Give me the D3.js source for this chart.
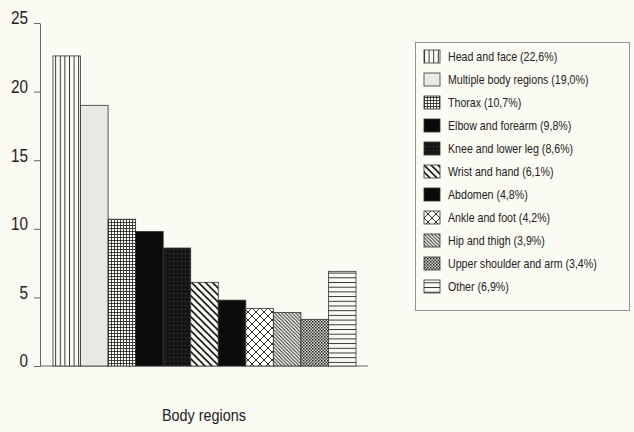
<!DOCTYPE html>
<html>
<head>
<meta charset="utf-8">
<script src="https://cdn.jsdelivr.net/npm/d3@7"></script>
<style>
  html, body { margin: 0; padding: 0; background: #fbfaf3; }
  svg { display: block; font-family: "Liberation Sans", Arial, sans-serif; }
</style>
</head>
<body>
<div id="chart"></div>
<script>
// Data
const regions = ['Head and face', 'Multiple body regions', 'Thorax', 'Elbow and forearm',
  'Knee and lower leg', 'Wrist and hand', 'Abdomen', 'Ankle and foot', 'Hip and thigh',
  'Upper shoulder and arm', 'Other'];
const shares = [22.6, 19.0, 10.7, 9.8, 8.6, 6.1, 4.8, 4.2, 3.9, 3.4, 6.9];
const legendLabels = ['Head and face (22,6%)', 'Multiple body regions (19,0%)', 'Thorax (10,7%)',
  'Elbow and forearm (9,8%)', 'Knee and lower leg (8,6%)', 'Wrist and hand (6,1%)',
  'Abdomen (4,8%)', 'Ankle and foot (4,2%)', 'Hip and thigh (3,9%)',
  'Upper shoulder and arm (3,4%)', 'Other (6,9%)'];
const yTicks = [0, 5, 10, 15, 20, 25];
const fills = ['url(#p-vert)', '#e9e9e3', 'url(#p-grid)', '#0b0b0b', 'url(#p-dark)',
  'url(#p-diag)', '#0b0b0b', 'url(#p-diamond)', 'url(#p-finediag)', 'url(#p-dots)', 'url(#p-horiz)'];

const width = 634, height = 432;
const squeeze = 0.85; // the print uses a condensed face

const svg = d3.select('#chart')
  .append('svg')
  .attr('width', width)
  .attr('height', height);

svg.append('rect').attr('width', width).attr('height', height).attr('fill', '#fbfaf3');

// Patterns
const defs = svg.append('defs');
const ink = '#1a1a1a';

function pattern(id, w, h, bg) {
  const p = defs.append('pattern')
    .attr('id', id)
    .attr('patternUnits', 'userSpaceOnUse')
    .attr('width', w)
    .attr('height', h);
  p.append('rect').attr('width', w).attr('height', h).attr('fill', bg || '#fbfaf3');
  return p;
}

pattern('p-vert', 4.6, 10).append('line')
  .attr('x1', 0.5).attr('x2', 0.5).attr('y1', 0).attr('y2', 10)
  .attr('stroke', ink).attr('stroke-width', 0.9);

const grid = pattern('p-grid', 3, 3);
grid.append('line').attr('x1', 0).attr('x2', 3).attr('y1', 0.5).attr('y2', 0.5)
  .attr('stroke', ink).attr('stroke-width', 0.8);
grid.append('line').attr('x1', 0.5).attr('x2', 0.5).attr('y1', 0).attr('y2', 3)
  .attr('stroke', ink).attr('stroke-width', 0.8);

const dark = pattern('p-dark', 4, 4, '#161616');
dark.append('rect').attr('x', 1).attr('y', 1).attr('width', 1).attr('height', 1).attr('fill', '#444');

const diag = pattern('p-diag', 7, 7);
diag.append('path').attr('d', 'M-1,-1 L8,8 M-1,6 L1,8 M6,-1 L8,1')
  .attr('stroke', ink).attr('stroke-width', 1.6);

const diamond = pattern('p-diamond', 8, 8);
diamond.append('path').attr('d', 'M0,0 L8,8 M8,0 L0,8')
  .attr('stroke', ink).attr('stroke-width', 0.9);

const finediag = pattern('p-finediag', 3.5, 3.5);
finediag.append('path').attr('d', 'M-1,-1 L4.5,4.5 M-1,2.5 L1,4.5 M2.5,-1 L4.5,1')
  .attr('stroke', ink).attr('stroke-width', 0.9);

const dots = pattern('p-dots', 3, 3, '#d8d8d2');
dots.append('rect').attr('x', 0).attr('y', 0).attr('width', 1.5).attr('height', 1.5).attr('fill', '#222');
dots.append('rect').attr('x', 1.5).attr('y', 1.5).attr('width', 1.5).attr('height', 1.5).attr('fill', '#444');

pattern('p-horiz', 10, 4.7).append('line')
  .attr('x1', 0).attr('x2', 10).attr('y1', 0.5).attr('y2', 0.5)
  .attr('stroke', ink).attr('stroke-width', 0.9);

// Scales
const xScale = d3.scaleBand()
  .domain(regions)
  .range([53, 356])
  .padding(0);

const yScale = d3.scaleLinear()
  .domain([0, 25])
  .range([366, 23]);

// Y axis
const yAxis = d3.axisLeft(yScale)
  .tickValues(yTicks)
  .tickSizeInner(6)
  .tickSizeOuter(0)
  .tickPadding(5);

const yG = svg.append('g')
  .attr('transform', 'translate(40,0)')
  .call(yAxis);
yG.select('.domain').attr('stroke', '#555').attr('stroke-width', 0.9);
yG.selectAll('.tick line').attr('stroke', '#555').attr('stroke-width', 0.9);
yG.selectAll('.tick text')
  .attr('fill', '#222')
  .attr('font-family', '"Liberation Sans", Arial, sans-serif')
  .style('font-size', '18px')
  .attr('x', -12 / squeeze)
  .attr('dy', '0.05em')
  .attr('transform', `scale(${squeeze},1)`);

// X axis baseline
svg.append('line')
  .attr('x1', 40).attr('x2', 368)
  .attr('y1', yScale(0)).attr('y2', yScale(0))
  .attr('stroke', '#555').attr('stroke-width', 0.9);

// Bars
svg.append('g')
  .selectAll('rect')
  .data(regions)
  .join('rect')
  .attr('x', d => xScale(d))
  .attr('y', (d, i) => yScale(shares[i]))
  .attr('width', xScale.bandwidth())
  .attr('height', (d, i) => yScale(0) - yScale(shares[i]))
  .attr('fill', (d, i) => fills[i])
  .attr('stroke', '#333')
  .attr('stroke-width', 0.8);

// X axis title
svg.append('text')
  .attr('transform', `translate(204,421) scale(${squeeze + 0.05},1)`)
  .attr('text-anchor', 'middle')
  .attr('fill', '#222')
  .style('font-size', '16px')
  .text('Body regions');

// Legend
const legend = svg.append('g');
legend.append('rect')
  .attr('x', 415.5).attr('y', 42.5)
  .attr('width', 214).attr('height', 268)
  .attr('fill', 'none')
  .attr('stroke', '#888')
  .attr('stroke-width', 0.9);

const rows = legend.selectAll('g.row')
  .data(legendLabels)
  .join('g')
  .attr('class', 'row')
  .attr('transform', (d, i) => `translate(424,${57 + i * 23})`);

rows.append('rect')
  .attr('x', 0).attr('y', -7)
  .attr('width', 16).attr('height', 13)
  .attr('fill', (d, i) => fills[i])
  .attr('stroke', '#333')
  .attr('stroke-width', 0.8);

rows.append('text')
  .attr('transform', `translate(24,0) scale(${squeeze},1)`)
  .attr('dy', '0.35em')
  .attr('fill', '#222')
  .style('font-size', '12.5px')
  .text(d => d);
</script>
</body>
</html>
